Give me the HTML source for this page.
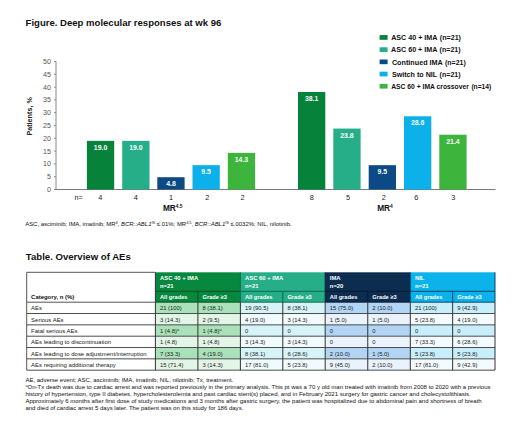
<!DOCTYPE html>
<html><head><meta charset="utf-8"><title>Deep molecular responses and AEs</title>
<style>
html,body{margin:0;padding:0;background:#fff;}
body{width:520px;height:444px;overflow:hidden;font-family:"Liberation Sans", sans-serif;}
svg{display:block;font-family:"Liberation Sans", sans-serif;}
</style></head><body>
<svg width="520" height="444" viewBox="0 0 520 444">
<text x="25.6" y="26.2" font-size="9.55" font-weight="bold" fill="#111">Figure. Deep molecular responses at wk 96</text>
<line x1="56.0" y1="61.5" x2="56.0" y2="189.5" stroke="#8a8a8a" stroke-width="1"/>
<line x1="54.0" y1="189.50" x2="56.0" y2="189.50" stroke="#8a8a8a" stroke-width="1"/>
<text x="51" y="192.00" font-size="7.1" fill="#555" text-anchor="end">0</text>
<line x1="54.0" y1="176.70" x2="56.0" y2="176.70" stroke="#8a8a8a" stroke-width="1"/>
<text x="51" y="179.20" font-size="7.1" fill="#555" text-anchor="end">5</text>
<line x1="54.0" y1="163.90" x2="56.0" y2="163.90" stroke="#8a8a8a" stroke-width="1"/>
<text x="51" y="166.40" font-size="7.1" fill="#555" text-anchor="end">10</text>
<line x1="54.0" y1="151.10" x2="56.0" y2="151.10" stroke="#8a8a8a" stroke-width="1"/>
<text x="51" y="153.60" font-size="7.1" fill="#555" text-anchor="end">15</text>
<line x1="54.0" y1="138.30" x2="56.0" y2="138.30" stroke="#8a8a8a" stroke-width="1"/>
<text x="51" y="140.80" font-size="7.1" fill="#555" text-anchor="end">20</text>
<line x1="54.0" y1="125.50" x2="56.0" y2="125.50" stroke="#8a8a8a" stroke-width="1"/>
<text x="51" y="128.00" font-size="7.1" fill="#555" text-anchor="end">25</text>
<line x1="54.0" y1="112.70" x2="56.0" y2="112.70" stroke="#8a8a8a" stroke-width="1"/>
<text x="51" y="115.20" font-size="7.1" fill="#555" text-anchor="end">30</text>
<line x1="54.0" y1="99.90" x2="56.0" y2="99.90" stroke="#8a8a8a" stroke-width="1"/>
<text x="51" y="102.40" font-size="7.1" fill="#555" text-anchor="end">35</text>
<line x1="54.0" y1="87.10" x2="56.0" y2="87.10" stroke="#8a8a8a" stroke-width="1"/>
<text x="51" y="89.60" font-size="7.1" fill="#555" text-anchor="end">40</text>
<line x1="54.0" y1="74.30" x2="56.0" y2="74.30" stroke="#8a8a8a" stroke-width="1"/>
<text x="51" y="76.80" font-size="7.1" fill="#555" text-anchor="end">45</text>
<line x1="54.0" y1="61.50" x2="56.0" y2="61.50" stroke="#8a8a8a" stroke-width="1"/>
<text x="51" y="64.00" font-size="7.1" fill="#555" text-anchor="end">50</text>
<line x1="54.5" y1="189.5" x2="495.5" y2="189.5" stroke="#7a7a7a" stroke-width="1"/>
<text transform="translate(32.3,116.4) rotate(-90)" font-size="7.2" font-weight="bold" fill="#222" text-anchor="middle">Patients, %</text>
<rect x="86.9" y="140.86" width="27.3" height="48.64" fill="#06823a"/>
<text x="100.55" y="149.96" font-size="6.9" font-weight="bold" fill="#fff" text-anchor="middle">19.0</text>
<text x="100.40" y="199.9" font-size="7.3" fill="#222" text-anchor="middle">4</text>
<rect x="122.2" y="140.86" width="27.3" height="48.64" fill="#25ae88"/>
<text x="135.85" y="149.96" font-size="6.9" font-weight="bold" fill="#fff" text-anchor="middle">19.0</text>
<text x="135.90" y="199.9" font-size="7.3" fill="#222" text-anchor="middle">4</text>
<rect x="157.3" y="177.21" width="27.3" height="12.29" fill="#0b4a85"/>
<text x="170.95" y="186.31" font-size="6.9" font-weight="bold" fill="#fff" text-anchor="middle">4.8</text>
<text x="171.00" y="199.9" font-size="7.3" fill="#222" text-anchor="middle">1</text>
<rect x="192.5" y="165.18" width="27.3" height="24.32" fill="#0cb0ea"/>
<text x="206.15" y="174.28" font-size="6.9" font-weight="bold" fill="#fff" text-anchor="middle">9.5</text>
<text x="207.20" y="199.9" font-size="7.3" fill="#222" text-anchor="middle">2</text>
<rect x="227.8" y="152.89" width="27.3" height="36.61" fill="#3db53d"/>
<text x="241.45" y="161.99" font-size="6.9" font-weight="bold" fill="#fff" text-anchor="middle">14.3</text>
<text x="242.60" y="199.9" font-size="7.3" fill="#222" text-anchor="middle">2</text>
<rect x="298.0" y="91.96" width="27.3" height="97.54" fill="#06823a"/>
<text x="311.65" y="101.06" font-size="6.9" font-weight="bold" fill="#fff" text-anchor="middle">38.1</text>
<text x="311.70" y="199.9" font-size="7.3" fill="#222" text-anchor="middle">8</text>
<rect x="333.3" y="128.57" width="27.3" height="60.93" fill="#25ae88"/>
<text x="346.95" y="137.67" font-size="6.9" font-weight="bold" fill="#fff" text-anchor="middle">23.8</text>
<text x="348.00" y="199.9" font-size="7.3" fill="#222" text-anchor="middle">5</text>
<rect x="368.7" y="165.18" width="27.3" height="24.32" fill="#0b4a85"/>
<text x="382.35" y="174.28" font-size="6.9" font-weight="bold" fill="#fff" text-anchor="middle">9.5</text>
<text x="383.90" y="199.9" font-size="7.3" fill="#222" text-anchor="middle">2</text>
<rect x="404.0" y="116.28" width="27.3" height="73.22" fill="#0cb0ea"/>
<text x="417.65" y="125.38" font-size="6.9" font-weight="bold" fill="#fff" text-anchor="middle">28.6</text>
<text x="416.40" y="199.9" font-size="7.3" fill="#222" text-anchor="middle">6</text>
<rect x="439.3" y="134.72" width="27.3" height="54.78" fill="#3db53d"/>
<text x="452.95" y="143.82" font-size="6.9" font-weight="bold" fill="#fff" text-anchor="middle">21.4</text>
<text x="453.20" y="199.9" font-size="7.3" fill="#222" text-anchor="middle">3</text>
<text x="74.4" y="199.9" font-size="7.2" fill="#222">n=</text>
<text x="162.9" y="210.6" font-size="8.3" font-weight="bold" fill="#111">MR<tspan font-size="4.8" dy="-3.1">4.5</tspan></text>
<text x="377.2" y="210.6" font-size="8.3" font-weight="bold" fill="#111">MR<tspan font-size="4.8" dy="-3.1">4</tspan></text>
<rect x="379.6" y="35.10" width="8" height="4.7" fill="#06823a"/>
<text x="391.2" y="40.10" font-size="7" font-weight="bold" fill="#111" textLength="46.3" lengthAdjust="spacingAndGlyphs">ASC 40 + IMA</text>
<text x="439.8" y="40.10" font-size="7" font-weight="bold" fill="#111" textLength="21.2" lengthAdjust="spacingAndGlyphs">(n=21)</text>
<rect x="379.6" y="47.30" width="8" height="4.7" fill="#25ae88"/>
<text x="391.1" y="52.30" font-size="7" font-weight="bold" fill="#111" textLength="46.3" lengthAdjust="spacingAndGlyphs">ASC 60 + IMA</text>
<text x="439.6" y="52.30" font-size="7" font-weight="bold" fill="#111" textLength="21.0" lengthAdjust="spacingAndGlyphs">(n=21)</text>
<rect x="379.6" y="59.50" width="8" height="4.7" fill="#0b4a85"/>
<text x="391.9" y="64.50" font-size="7" font-weight="bold" fill="#111" textLength="50.9" lengthAdjust="spacingAndGlyphs">Continued IMA</text>
<text x="445.0" y="64.50" font-size="7" font-weight="bold" fill="#111" textLength="20.8" lengthAdjust="spacingAndGlyphs">(n=21)</text>
<rect x="379.6" y="71.70" width="8" height="4.7" fill="#0cb0ea"/>
<text x="391.9" y="76.70" font-size="7" font-weight="bold" fill="#111" textLength="45.3" lengthAdjust="spacingAndGlyphs">Switch to NIL</text>
<text x="439.6" y="76.70" font-size="7" font-weight="bold" fill="#111" textLength="21.0" lengthAdjust="spacingAndGlyphs">(n=21)</text>
<rect x="379.6" y="83.90" width="8" height="4.7" fill="#3db53d"/>
<text x="391.2" y="88.90" font-size="7" font-weight="bold" fill="#111" textLength="77.7" lengthAdjust="spacingAndGlyphs">ASC 60 + IMA crossover</text>
<text x="471.4" y="88.90" font-size="7" font-weight="bold" fill="#111" textLength="19.9" lengthAdjust="spacingAndGlyphs">(n=14)</text>
<text x="25.2" y="225.8" font-size="5.95" fill="#111">ASC, asciminib; IMA, imatinib; MR<tspan font-size="3.9" dy="-2.1">4</tspan><tspan dy="2.1">, </tspan><tspan font-style="italic">BCR::ABL1</tspan><tspan font-size="3.9" dy="-2.1">IS</tspan><tspan dy="2.1"> ≤.01%; MR</tspan><tspan font-size="3.9" dy="-2.1">4.5</tspan><tspan dy="2.1">, </tspan><tspan font-style="italic">BCR::ABL1</tspan><tspan font-size="3.9" dy="-2.1">IS</tspan><tspan dy="2.1"> ≤.0032%; NIL, nilotinib.</tspan></text>
<text x="25.8" y="260.4" font-size="9.6" font-weight="bold" fill="#111">Table. Overview of AEs</text>
<rect x="155.4" y="272.3" width="85.00" height="29.90" fill="#06883f"/>
<rect x="155.4" y="302.20" width="85.00" height="11.33" fill="#a9e1b8"/>
<rect x="155.4" y="313.53" width="85.00" height="11.33" fill="#e2f5e7"/>
<rect x="155.4" y="324.86" width="85.00" height="11.33" fill="#a9e1b8"/>
<rect x="155.4" y="336.19" width="85.00" height="11.33" fill="#e2f5e7"/>
<rect x="155.4" y="347.52" width="85.00" height="11.33" fill="#a9e1b8"/>
<rect x="155.4" y="358.85" width="85.00" height="11.33" fill="#e2f5e7"/>
<rect x="240.4" y="272.3" width="84.80" height="29.90" fill="#25ae88"/>
<rect x="240.4" y="302.20" width="84.80" height="11.33" fill="#d6f3f8"/>
<rect x="240.4" y="313.53" width="84.80" height="11.33" fill="#f1fafc"/>
<rect x="240.4" y="324.86" width="84.80" height="11.33" fill="#d6f3f8"/>
<rect x="240.4" y="336.19" width="84.80" height="11.33" fill="#f1fafc"/>
<rect x="240.4" y="347.52" width="84.80" height="11.33" fill="#d6f3f8"/>
<rect x="240.4" y="358.85" width="84.80" height="11.33" fill="#f1fafc"/>
<rect x="325.2" y="272.3" width="85.10" height="29.90" fill="#0c2c50"/>
<rect x="325.2" y="302.20" width="85.10" height="11.33" fill="#b2d5f5"/>
<rect x="325.2" y="313.53" width="85.10" height="11.33" fill="#eaf3fc"/>
<rect x="325.2" y="324.86" width="85.10" height="11.33" fill="#b2d5f5"/>
<rect x="325.2" y="336.19" width="85.10" height="11.33" fill="#eaf3fc"/>
<rect x="325.2" y="347.52" width="85.10" height="11.33" fill="#b2d5f5"/>
<rect x="325.2" y="358.85" width="85.10" height="11.33" fill="#eaf3fc"/>
<rect x="410.3" y="272.3" width="84.70" height="29.90" fill="#0cb2ea"/>
<rect x="410.3" y="302.20" width="84.70" height="11.33" fill="#c8edfb"/>
<rect x="410.3" y="313.53" width="84.70" height="11.33" fill="#f4fbfe"/>
<rect x="410.3" y="324.86" width="84.70" height="11.33" fill="#c8edfb"/>
<rect x="410.3" y="336.19" width="84.70" height="11.33" fill="#f4fbfe"/>
<rect x="410.3" y="347.52" width="84.70" height="11.33" fill="#c8edfb"/>
<rect x="410.3" y="358.85" width="84.70" height="11.33" fill="#f4fbfe"/>
<line x1="155.4" y1="291.3" x2="240.4" y2="291.3" stroke="#03501f" stroke-width="1"/>
<line x1="197.90" y1="291.3" x2="197.90" y2="302.2" stroke="#03501f" stroke-width="1"/>
<line x1="155.4" y1="302.2" x2="240.4" y2="302.2" stroke="#03501f" stroke-width="1"/>
<text x="160.00" y="280.2" font-size="5.9" font-weight="bold" fill="#fff">ASC 40 + IMA</text>
<text x="160.00" y="288" font-size="5.9" font-weight="bold" fill="#fff">n=21</text>
<text x="160.00" y="298.8" font-size="5.7" font-weight="bold" fill="#fff">All grades</text>
<text x="202.50" y="298.8" font-size="5.7" font-weight="bold" fill="#fff">Grade ≥3</text>
<line x1="240.4" y1="291.3" x2="325.2" y2="291.3" stroke="#0f6a50" stroke-width="1"/>
<line x1="282.80" y1="291.3" x2="282.80" y2="302.2" stroke="#0f6a50" stroke-width="1"/>
<line x1="240.4" y1="302.2" x2="325.2" y2="302.2" stroke="#0f6a50" stroke-width="1"/>
<line x1="240.4" y1="272.3" x2="240.4" y2="302.2" stroke="#0f6a50" stroke-width="1"/>
<text x="245.00" y="280.2" font-size="5.9" font-weight="bold" fill="#fff">ASC 60 + IMA</text>
<text x="245.00" y="288" font-size="5.9" font-weight="bold" fill="#fff">n=21</text>
<text x="245.00" y="298.8" font-size="5.7" font-weight="bold" fill="#fff">All grades</text>
<text x="287.40" y="298.8" font-size="5.7" font-weight="bold" fill="#fff">Grade ≥3</text>
<line x1="325.2" y1="291.3" x2="410.3" y2="291.3" stroke="#051a30" stroke-width="1"/>
<line x1="367.75" y1="291.3" x2="367.75" y2="302.2" stroke="#051a30" stroke-width="1"/>
<line x1="325.2" y1="302.2" x2="410.3" y2="302.2" stroke="#051a30" stroke-width="1"/>
<line x1="325.2" y1="272.3" x2="325.2" y2="302.2" stroke="#051a30" stroke-width="1"/>
<text x="329.80" y="280.2" font-size="5.9" font-weight="bold" fill="#fff">IMA</text>
<text x="329.80" y="288" font-size="5.9" font-weight="bold" fill="#fff">n=20</text>
<text x="329.80" y="298.8" font-size="5.7" font-weight="bold" fill="#fff">All grades</text>
<text x="372.35" y="298.8" font-size="5.7" font-weight="bold" fill="#fff">Grade ≥3</text>
<line x1="410.3" y1="291.3" x2="495.0" y2="291.3" stroke="#08466a" stroke-width="1"/>
<line x1="452.65" y1="291.3" x2="452.65" y2="302.2" stroke="#08466a" stroke-width="1"/>
<line x1="410.3" y1="302.2" x2="495.0" y2="302.2" stroke="#08466a" stroke-width="1"/>
<line x1="410.3" y1="272.3" x2="410.3" y2="302.2" stroke="#08466a" stroke-width="1"/>
<text x="414.90" y="280.2" font-size="5.9" font-weight="bold" fill="#fff">NIL</text>
<text x="414.90" y="288" font-size="5.9" font-weight="bold" fill="#fff">n=21</text>
<text x="414.90" y="298.8" font-size="5.7" font-weight="bold" fill="#fff">All grades</text>
<text x="457.25" y="298.8" font-size="5.7" font-weight="bold" fill="#fff">Grade ≥3</text>
<line x1="495.0" y1="272.3" x2="495.0" y2="302.2" stroke="#08466a" stroke-width="1"/>
<line x1="26.7" y1="272.3" x2="155.4" y2="272.3" stroke="#555" stroke-width="1"/>
<line x1="26.7" y1="302.2" x2="155.4" y2="302.2" stroke="#555" stroke-width="1"/>
<text x="31.1" y="298.8" font-size="5.95" font-weight="bold" fill="#111">Category, n (%)</text>
<text x="31.1" y="310.40" font-size="5.97" fill="#222">AEs</text>
<text x="160.00" y="310.40" font-size="5.85" fill="#222">21 (100)</text>
<text x="202.50" y="310.40" font-size="5.85" fill="#222">8 (38.1)</text>
<text x="245.00" y="310.40" font-size="5.85" fill="#222">19 (90.5)</text>
<text x="287.40" y="310.40" font-size="5.85" fill="#222">8 (38.1)</text>
<text x="329.80" y="310.40" font-size="5.85" fill="#222">15 (75.0)</text>
<text x="372.35" y="310.40" font-size="5.85" fill="#222">2 (10.0)</text>
<text x="414.90" y="310.40" font-size="5.85" fill="#222">21 (100)</text>
<text x="457.25" y="310.40" font-size="5.85" fill="#222">9 (42.9)</text>
<text x="31.1" y="321.73" font-size="5.97" fill="#222">Serious AEs</text>
<text x="160.00" y="321.73" font-size="5.85" fill="#222">3 (14.3)</text>
<text x="202.50" y="321.73" font-size="5.85" fill="#222">2 (9.5)</text>
<text x="245.00" y="321.73" font-size="5.85" fill="#222">4 (19.0)</text>
<text x="287.40" y="321.73" font-size="5.85" fill="#222">3 (14.3)</text>
<text x="329.80" y="321.73" font-size="5.85" fill="#222">1 (5.0)</text>
<text x="372.35" y="321.73" font-size="5.85" fill="#222">1 (5.0)</text>
<text x="414.90" y="321.73" font-size="5.85" fill="#222">5 (23.8)</text>
<text x="457.25" y="321.73" font-size="5.85" fill="#222">4 (19.0)</text>
<text x="31.1" y="333.06" font-size="5.97" fill="#222">Fatal serious AEs</text>
<text x="160.00" y="333.06" font-size="5.85" fill="#222">1 (4.8)<tspan font-size="3.8" dy="-2">a</tspan></text>
<text x="202.50" y="333.06" font-size="5.85" fill="#222">1 (4.8)<tspan font-size="3.8" dy="-2">a</tspan></text>
<text x="245.00" y="333.06" font-size="5.85" fill="#222">0</text>
<text x="287.40" y="333.06" font-size="5.85" fill="#222">0</text>
<text x="329.80" y="333.06" font-size="5.85" fill="#222">0</text>
<text x="372.35" y="333.06" font-size="5.85" fill="#222">0</text>
<text x="414.90" y="333.06" font-size="5.85" fill="#222">0</text>
<text x="457.25" y="333.06" font-size="5.85" fill="#222">0</text>
<text x="31.1" y="344.39" font-size="5.97" fill="#222">AEs leading to discontinuation</text>
<text x="160.00" y="344.39" font-size="5.85" fill="#222">1 (4.8)</text>
<text x="202.50" y="344.39" font-size="5.85" fill="#222">1 (4.8)</text>
<text x="245.00" y="344.39" font-size="5.85" fill="#222">3 (14.3)</text>
<text x="287.40" y="344.39" font-size="5.85" fill="#222">3 (14.3)</text>
<text x="329.80" y="344.39" font-size="5.85" fill="#222">0</text>
<text x="372.35" y="344.39" font-size="5.85" fill="#222">0</text>
<text x="414.90" y="344.39" font-size="5.85" fill="#222">7 (33.3)</text>
<text x="457.25" y="344.39" font-size="5.85" fill="#222">6 (28.6)</text>
<text x="31.1" y="355.72" font-size="5.97" fill="#222">AEs leading to dose adjustment/interruption</text>
<text x="160.00" y="355.72" font-size="5.85" fill="#222">7 (33.3)</text>
<text x="202.50" y="355.72" font-size="5.85" fill="#222">4 (19.0)</text>
<text x="245.00" y="355.72" font-size="5.85" fill="#222">8 (38.1)</text>
<text x="287.40" y="355.72" font-size="5.85" fill="#222">6 (28.6)</text>
<text x="329.80" y="355.72" font-size="5.85" fill="#222">2 (10.0)</text>
<text x="372.35" y="355.72" font-size="5.85" fill="#222">1 (5.0)</text>
<text x="414.90" y="355.72" font-size="5.85" fill="#222">5 (23.8)</text>
<text x="457.25" y="355.72" font-size="5.85" fill="#222">5 (23.8)</text>
<text x="31.1" y="367.05" font-size="5.97" fill="#222">AEs requiring additional therapy</text>
<text x="160.00" y="367.05" font-size="5.85" fill="#222">15 (71.4)</text>
<text x="202.50" y="367.05" font-size="5.85" fill="#222">3 (14.3)</text>
<text x="245.00" y="367.05" font-size="5.85" fill="#222">17 (81.0)</text>
<text x="287.40" y="367.05" font-size="5.85" fill="#222">5 (23.8)</text>
<text x="329.80" y="367.05" font-size="5.85" fill="#222">9 (45.0)</text>
<text x="372.35" y="367.05" font-size="5.85" fill="#222">2 (10.0)</text>
<text x="414.90" y="367.05" font-size="5.85" fill="#222">17 (81.0)</text>
<text x="457.25" y="367.05" font-size="5.85" fill="#222">9 (42.9)</text>
<line x1="26.7" y1="313.53" x2="495.0" y2="313.53" stroke="#4a4f4f" stroke-width="1"/>
<line x1="26.7" y1="324.86" x2="495.0" y2="324.86" stroke="#4a4f4f" stroke-width="1"/>
<line x1="26.7" y1="336.19" x2="495.0" y2="336.19" stroke="#4a4f4f" stroke-width="1"/>
<line x1="26.7" y1="347.52" x2="495.0" y2="347.52" stroke="#4a4f4f" stroke-width="1"/>
<line x1="26.7" y1="358.85" x2="495.0" y2="358.85" stroke="#4a4f4f" stroke-width="1"/>
<line x1="26.7" y1="370.18" x2="495.0" y2="370.18" stroke="#4a4f4f" stroke-width="1"/>
<line x1="155.4" y1="272.3" x2="155.4" y2="370.18" stroke="#333" stroke-width="1"/>
<line x1="197.90" y1="302.2" x2="197.90" y2="370.18" stroke="#333" stroke-width="1"/>
<line x1="240.4" y1="302.2" x2="240.4" y2="370.18" stroke="#333" stroke-width="1"/>
<line x1="282.80" y1="302.2" x2="282.80" y2="370.18" stroke="#333" stroke-width="1"/>
<line x1="325.2" y1="302.2" x2="325.2" y2="370.18" stroke="#333" stroke-width="1"/>
<line x1="367.75" y1="302.2" x2="367.75" y2="370.18" stroke="#333" stroke-width="1"/>
<line x1="410.3" y1="302.2" x2="410.3" y2="370.18" stroke="#333" stroke-width="1"/>
<line x1="452.65" y1="302.2" x2="452.65" y2="370.18" stroke="#333" stroke-width="1"/>
<line x1="495.0" y1="302.2" x2="495.0" y2="370.18" stroke="#333" stroke-width="1"/>
<line x1="26.7" y1="272.3" x2="26.7" y2="370.18" stroke="#555" stroke-width="1"/>
<text x="25.4" y="381.60" font-size="6.02" fill="#111">AE, adverse event; ASC, asciminib; IMA, imatinib; NIL, nilotinib; Tx, treatment.</text>
<text x="25.4" y="388.72" font-size="6.02" fill="#111"><tspan font-size="3.8" dy="-2">a</tspan><tspan dy="2">On-Tx death was due to cardiac arrest and was reported previously in the primary analysis. This pt was a 70 y old man treated with imatinib from 2008 to 2020 with a previous</tspan></text>
<text x="25.4" y="395.84" font-size="6.02" fill="#111">history of hypertension, type II diabetes, hypercholesterolemia and past cardiac stent(s) placed, and in February 2021 surgery for gastric cancer and cholecystolithiasis.</text>
<text x="25.4" y="402.96" font-size="6.02" fill="#111">Approximately 6 months after first dose of study medications and 3 months after gastric surgery, the patient was hospitalized due to abdominal pain and shortness of breath</text>
<text x="25.4" y="410.08" font-size="6.02" fill="#111">and died of cardiac arrest 5 days later. The patient was on this study for 186 days.</text>
</svg>
</body></html>
